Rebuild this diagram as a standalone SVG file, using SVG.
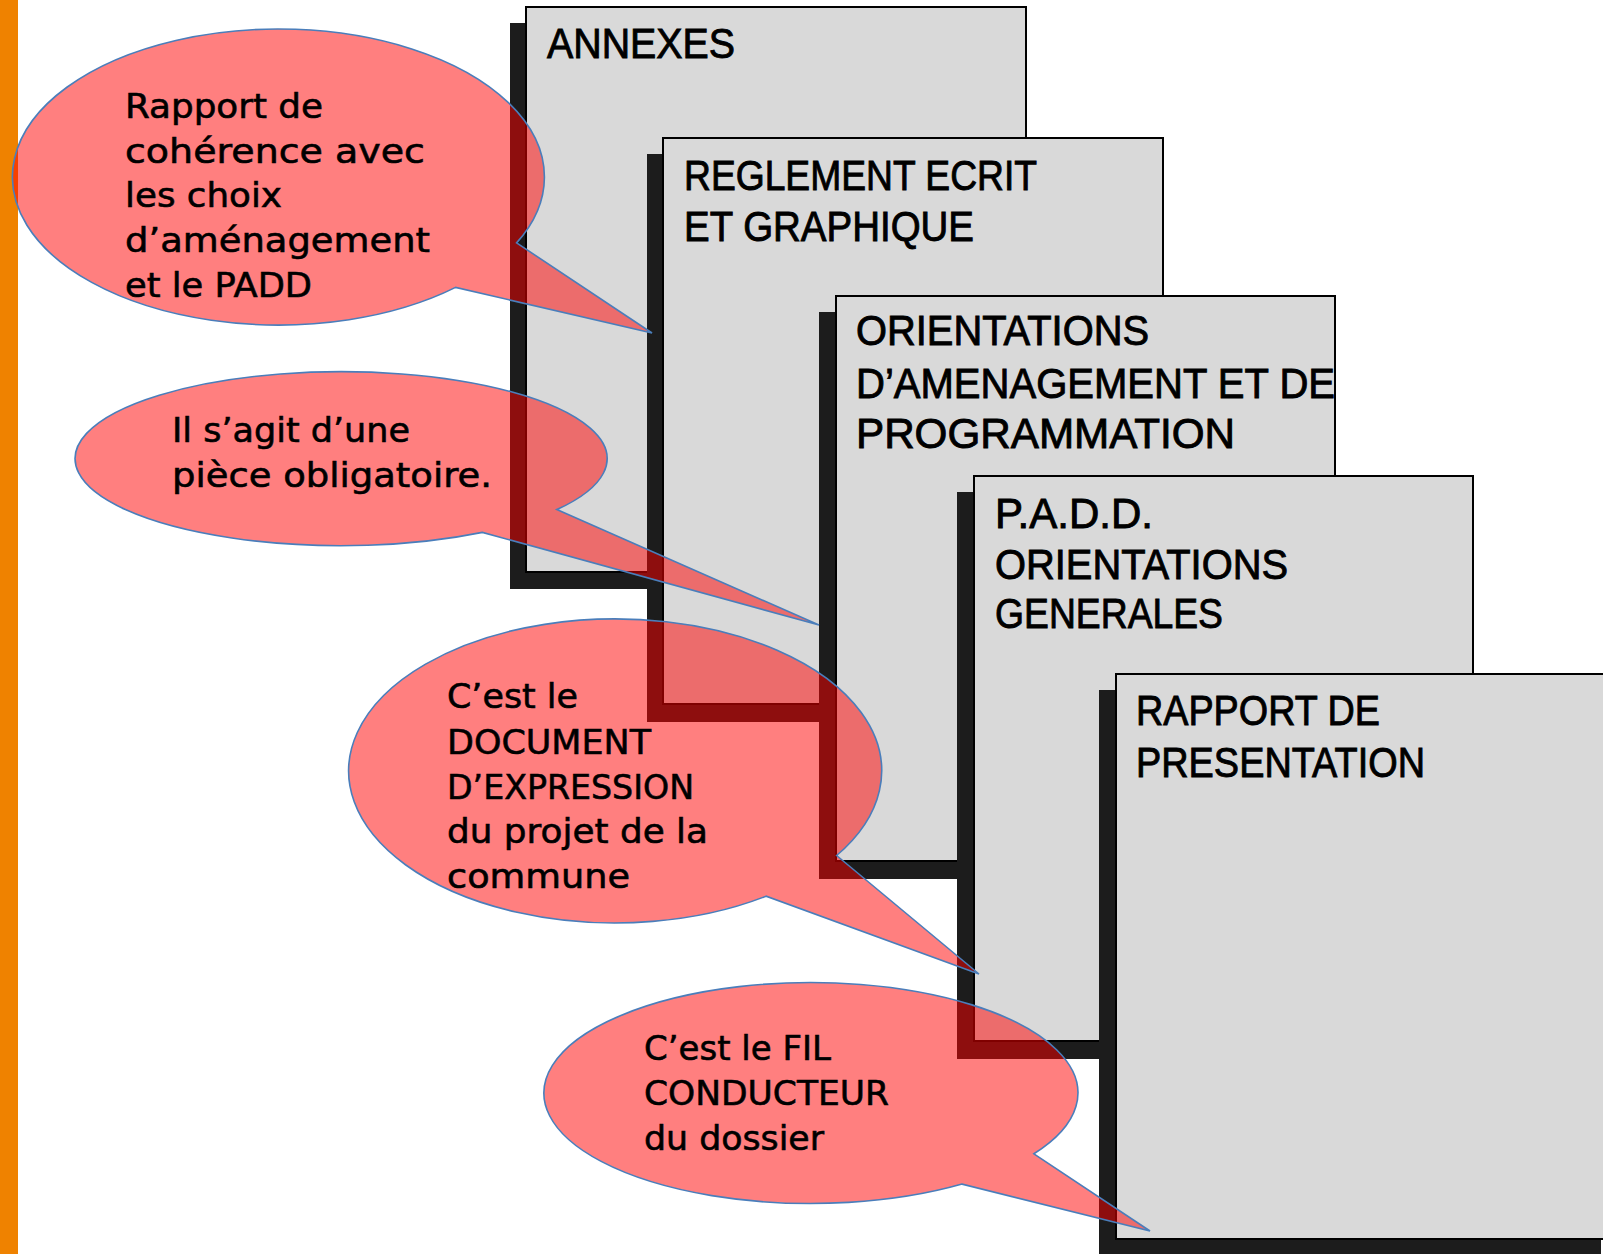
<svg xmlns="http://www.w3.org/2000/svg" width="1603" height="1254" viewBox="0 0 1603 1254">
<style>
.shadow{fill:#1c1c1c;stroke:none}
.box{fill:#d9d9d9;stroke:#000;stroke-width:2}
.bt{font-family:"Liberation Sans","Open Sans",sans-serif;font-size:42px;fill:#000;stroke:#000;stroke-width:0.9}
.callout{fill:#ff0000;fill-opacity:0.5;stroke:#4a7ebb;stroke-width:1.6}
.ct{font-family:"DejaVu Sans","Liberation Sans",sans-serif;font-size:34px;fill:#000;stroke:#000;stroke-width:0.6}
</style>
<rect x="0" y="0" width="1603" height="1254" fill="#ffffff"/>
<rect id="bar" x="0" y="0" width="18" height="1254" fill="#ef8200"/>

<g id="annexes">
<rect class="shadow" x="510" y="23" width="500" height="566"/>
<rect class="box" x="526" y="7" width="500" height="565"/>
<text class="bt" x="547" y="58" textLength="188" lengthAdjust="spacingAndGlyphs">ANNEXES</text>
</g>

<g id="reglement">
<rect class="shadow" x="647" y="154" width="500" height="568"/>
<rect class="box" x="663" y="138" width="500" height="566"/>
<text class="bt" x="684" y="190" textLength="353" lengthAdjust="spacingAndGlyphs">REGLEMENT ECRIT</text>
<text class="bt" x="684" y="241" textLength="290" lengthAdjust="spacingAndGlyphs">ET GRAPHIQUE</text>
</g>

<g id="oap">
<rect class="shadow" x="819" y="312" width="500" height="567"/>
<rect class="box" x="836" y="296" width="499" height="565"/>
<text class="bt" x="856" y="345" textLength="293" lengthAdjust="spacingAndGlyphs">ORIENTATIONS</text>
<text class="bt" x="856" y="398" textLength="479" lengthAdjust="spacingAndGlyphs">D’AMENAGEMENT ET DE</text>
<text class="bt" x="856" y="448" textLength="379" lengthAdjust="spacingAndGlyphs">PROGRAMMATION</text>
</g>

<g id="padd">
<rect class="shadow" x="957" y="492" width="500" height="567"/>
<rect class="box" x="974" y="476" width="499" height="565"/>
<text class="bt" x="995" y="528" textLength="158" lengthAdjust="spacingAndGlyphs">P.A.D.D.</text>
<text class="bt" x="995" y="579" textLength="293" lengthAdjust="spacingAndGlyphs">ORIENTATIONS</text>
<text class="bt" x="995" y="628" textLength="228" lengthAdjust="spacingAndGlyphs">GENERALES</text>
</g>

<g id="rapport">
<rect class="shadow" x="1099" y="690" width="502" height="570"/>
<rect class="box" x="1116" y="674" width="501" height="565"/>
<text class="bt" x="1136" y="725" textLength="244" lengthAdjust="spacingAndGlyphs">RAPPORT DE</text>
<text class="bt" x="1136" y="777" textLength="289" lengthAdjust="spacingAndGlyphs">PRESENTATION</text>
</g>

<g id="callouts">
<g id="callout-coherence">
<path class="callout" d="M516.6 242.9 L652 333 L455.6 287.4 A266 148 0 1 1 516.6 242.9 Z"/>
<text class="ct" x="125" y="118" textLength="198" lengthAdjust="spacingAndGlyphs">Rapport de</text>
<text class="ct" x="125" y="163" textLength="300" lengthAdjust="spacingAndGlyphs">cohérence avec</text>
<text class="ct" x="125" y="207" textLength="157" lengthAdjust="spacingAndGlyphs">les choix</text>
<text class="ct" x="125" y="252" textLength="305" lengthAdjust="spacingAndGlyphs">d’aménagement</text>
<text class="ct" x="125" y="297" textLength="187" lengthAdjust="spacingAndGlyphs">et le PADD</text>
</g>
<g id="callout-obligatoire">
<path class="callout" d="M556.8 509.6 L819 625 L482.4 532.4 A266 87 0 1 1 556.8 509.6 Z"/>
<text class="ct" x="172" y="442" textLength="238" lengthAdjust="spacingAndGlyphs">Il s’agit d’une</text>
<text class="ct" x="172" y="487" textLength="320" lengthAdjust="spacingAndGlyphs">pièce obligatoire.</text>
</g>
<g id="callout-document">
<path class="callout" d="M836.6 855.5 L979 974 L766.1 896.2 A266.5 152 0 1 1 836.6 855.5 Z"/>
<text class="ct" x="447" y="708" textLength="131" lengthAdjust="spacingAndGlyphs">C’est le</text>
<text class="ct" x="447" y="754" textLength="204" lengthAdjust="spacingAndGlyphs">DOCUMENT</text>
<text class="ct" x="447" y="799" textLength="247" lengthAdjust="spacingAndGlyphs">D’EXPRESSION</text>
<text class="ct" x="447" y="843" textLength="261" lengthAdjust="spacingAndGlyphs">du projet de la</text>
<text class="ct" x="447" y="888" textLength="183" lengthAdjust="spacingAndGlyphs">commune</text>
</g>
<g id="callout-fil">
<path class="callout" d="M1033.9 1153.8 L1150 1231 L962.1 1184.1 A267 110.5 0 1 1 1033.9 1153.8 Z"/>
<text class="ct" x="644" y="1060" textLength="187" lengthAdjust="spacingAndGlyphs">C’est le FIL</text>
<text class="ct" x="644" y="1105" textLength="245" lengthAdjust="spacingAndGlyphs">CONDUCTEUR</text>
<text class="ct" x="644" y="1150" textLength="180" lengthAdjust="spacingAndGlyphs">du dossier</text>
</g>
</g>
</svg>
